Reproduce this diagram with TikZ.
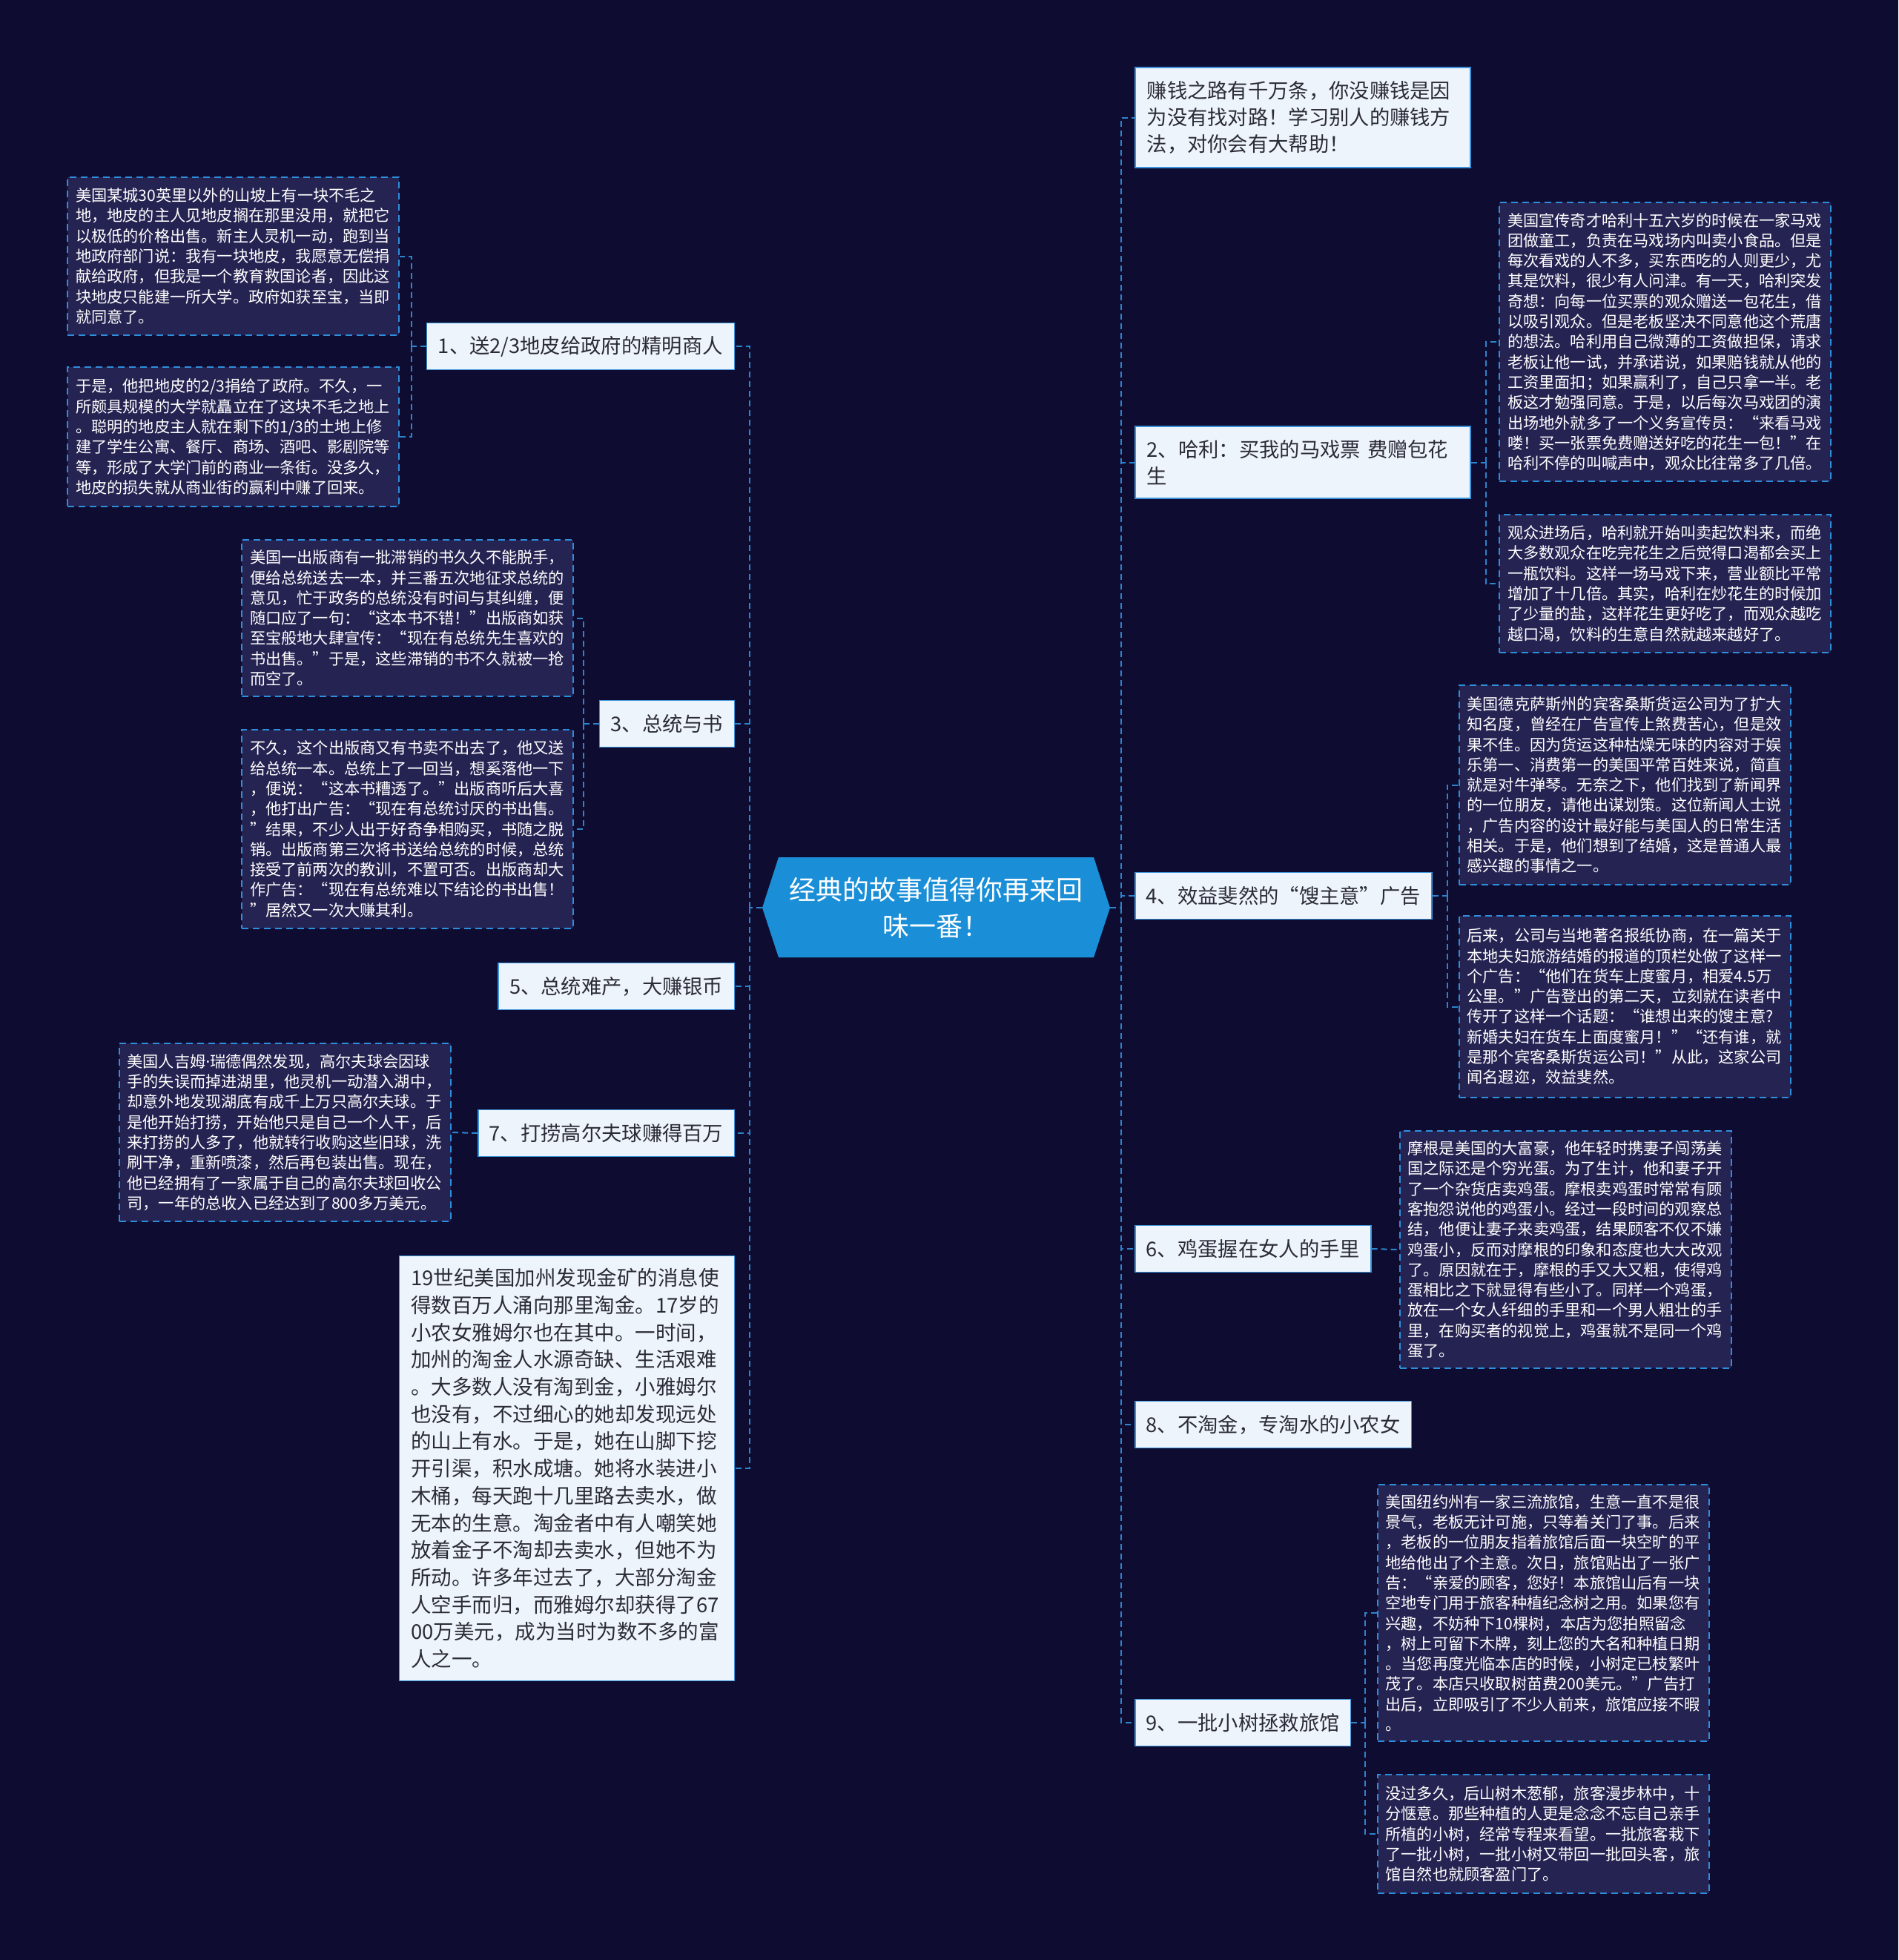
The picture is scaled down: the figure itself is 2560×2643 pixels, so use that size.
\documentclass[tikz,border=0pt]{standalone}
\usepackage{fontspec}
\newfontfamily\cjk{Noto Sans CJK SC}
\newfontfamily\latinsans{Noto Sans}
\definecolor{bg}{HTML}{0E0C31}
\definecolor{leaff}{HTML}{252352}
\definecolor{leafb}{HTML}{2E8EDC}
\definecolor{connc}{HTML}{2C84CC}
\definecolor{brf}{HTML}{EEF4FC}
\definecolor{brb}{HTML}{3A93DA}
\definecolor{brt}{HTML}{2B2B38}
\definecolor{cfill}{HTML}{1A8FD8}
\begin{document}
\begin{tikzpicture}[x=1pt,y=-1pt,
  conn/.style={draw=connc, line width=2pt, dash pattern=on 8pt off 5pt},
  leaf/.style={draw=leafb, fill=leaff, line width=2pt, dash pattern=on 9pt off 6pt,
    text=white, align=left, text width=425pt, inner xsep=11pt, inner ysep=0pt,
    font=\cjk\fontsize{21.2}{27.3}\selectfont},
  br/.style={draw=brb, fill=brf, line width=1.5pt, text=brt, inner xsep=15pt,
    inner ysep=0pt, minimum height=63pt, font=\cjk\fontsize{27.3}{36}\selectfont},
  brm/.style={br, align=left, text width=420pt, inner xsep=16pt},
]
\useasboundingbox (0,0) rectangle (2560,2643);
\fill[bg] (0,0) rectangle (2560,2643);

% centre
\fill[cfill] (1050,1156) -- (1475,1156) -- (1497,1224) -- (1475,1291) -- (1050,1291) -- (1028,1224) -- cycle;
\node[minimum width=469pt, minimum height=135pt, text=white, align=center,
  font=\cjk\fontsize{36}{49}\selectfont] (c) at (1262.5,1224) {经典的故事值得你再来回\\味一番！};
\coordinate (cl) at (1011,1224);
\coordinate (cr) at (1512,1224);

% left branches
\node[br, anchor=east, minimum width=415pt] (n1) at (991,467) {1、送2/3地皮给政府的精明商人};
\node[br, anchor=east, minimum width=180pt] (n3) at (991,976) {3、总统与书};
\node[br, anchor=east, minimum width=317pt] (n5) at (991,1330) {5、总统难产，大赚银币};
\node[br, anchor=east, minimum width=344pt] (n7) at (991,1528) {7、打捞高尔夫球赚得百万};
\node[brm, anchor=east, minimum height=573pt, font=\cjk\fontsize{27.5}{36.7}\selectfont] (b8) at (991,1980) {19世纪美国加州发现金矿的消息使\\
得数百万人涌向那里淘金。17岁的\\
小农女雅姆尔也在其中。一时间，\\
加州的淘金人水源奇缺、生活艰难\\
。大多数人没有淘到金，小雅姆尔\\
也没有，不过细心的她却发现远处\\
的山上有水。于是，她在山脚下挖\\
开引渠，积水成塘。她将水装进小\\
木桶，每天跑十几里路去卖水，做\\
无本的生意。淘金者中有人嘲笑她\\
放着金子不淘却去卖水，但她不为\\
所动。许多年过去了，大部分淘金\\
人空手而归，而雅姆尔却获得了67\\
00万美元，成为当时为数不多的富\\
人之一。};

% right branches
\node[brm, anchor=west, minimum height=135pt] (top) at (1530,158.5) {赚钱之路有千万条，你没赚钱是因\\为没有找对路！学习别人的赚钱方\\法，对你会有大帮助！};
\node[brm, anchor=west, minimum height=97pt] (n2) at (1530,623.5) {2、哈利：买我的马戏票 费赠包花\\生};
\node[br, anchor=west, minimum width=398pt] (n4) at (1530,1208) {4、效益斐然的“馊主意”广告};
\node[br, anchor=west, minimum width=317pt] (n6) at (1530,1684) {6、鸡蛋握在女人的手里};
\node[br, anchor=west, minimum width=371pt] (n8) at (1530,1921) {8、不淘金，专淘水的小农女};
\node[br, anchor=west, minimum width=290pt] (n9) at (1530,2323) {9、一批小树拯救旅馆};

% leaves left
\node[leaf, minimum height=213pt] (l1a) at (314.5,345.5) {美国某城30英里以外的山坡上有一块不毛之\\
地，地皮的主人见地皮搁在那里没用，就把它\\
以极低的价格出售。新主人灵机一动，跑到当\\
地政府部门说：我有一块地皮，我愿意无偿捐\\
献给政府，但我是一个教育救国论者，因此这\\
块地皮只能建一所大学。政府如获至宝，当即\\
就同意了。};
\node[leaf, minimum height=188pt] (l1b) at (314.5,589) {于是，他把地皮的2/3捐给了政府。不久，一\\
所颇具规模的大学就矗立在了这块不毛之地上\\
。聪明的地皮主人就在剩下的1/3的土地上修\\
建了学生公寓、餐厅、商场、酒吧、影剧院等\\
等，形成了大学门前的商业一条街。没多久，\\
地皮的损失就从商业街的赢利中赚了回来。};
\node[leaf, minimum height=211pt] (l3a) at (549.5,833.5) {美国一出版商有一批滞销的书久久不能脱手，\\
便给总统送去一本，并三番五次地征求总统的\\
意见，忙于政务的总统没有时间与其纠缠，便\\
随口应了一句：“这本书不错！”出版商如获\\
至宝般地大肆宣传：“现在有总统先生喜欢的\\
书出售。”于是，这些滞销的书不久就被一抢\\
而空了。};
\node[leaf, minimum height=268pt] (l3b) at (549.5,1118) {不久，这个出版商又有书卖不出去了，他又送\\
给总统一本。总统上了一回当，想奚落他一下\\
，便说：“这本书糟透了。”出版商听后大喜\\
，他打出广告：“现在有总统讨厌的书出售。\\
”结果，不少人出于好奇争相购买，书随之脱\\
销。出版商第三次将书送给总统的时候，总统\\
接受了前两次的教训，不置可否。出版商却大\\
作广告：“现在有总统难以下结论的书出售！\\
”居然又一次大赚其利。};
\node[leaf, minimum height=240pt] (l7) at (384,1527) {美国人吉姆{\latinsans ·}瑞德偶然发现，高尔夫球会因球\\
手的失误而掉进湖里，他灵机一动潜入湖中，\\
却意外地发现湖底有成千上万只高尔夫球。于\\
是他开始打捞，开始他只是自己一个人干，后\\
来打捞的人多了，他就转行收购这些旧球，洗\\
刷干净，重新喷漆，然后再包装出售。现在，\\
他已经拥有了一家属于自己的高尔夫球回收公\\
司，一年的总收入已经达到了800多万美元。};

% leaves right
\node[leaf, minimum height=376pt] (r2a) at (2245.5,461) {美国宣传奇才哈利十五六岁的时候在一家马戏\\
团做童工，负责在马戏场内叫卖小食品。但是\\
每次看戏的人不多，买东西吃的人则更少，尤\\
其是饮料，很少有人问津。有一天，哈利突发\\
奇想：向每一位买票的观众赠送一包花生，借\\
以吸引观众。但是老板坚决不同意他这个荒唐\\
的想法。哈利用自己微薄的工资做担保，请求\\
老板让他一试，并承诺说，如果赔钱就从他的\\
工资里面扣；如果赢利了，自己只拿一半。老\\
板这才勉强同意。于是，以后每次马戏团的演\\
出场地外就多了一个义务宣传员：“来看马戏\\
喽！买一张票免费赠送好吃的花生一包！”在\\
哈利不停的叫喊声中，观众比往常多了几倍。};
\node[leaf, minimum height=186pt] (r2b) at (2245.5,787) {观众进场后，哈利就开始叫卖起饮料来，而绝\\
大多数观众在吃完花生之后觉得口渴都会买上\\
一瓶饮料。这样一场马戏下来，营业额比平常\\
增加了十几倍。其实，哈利在炒花生的时候加\\
了少量的盐，这样花生更好吃了，而观众越吃\\
越口渴，饮料的生意自然就越来越好了。};
\node[leaf, minimum height=269pt] (r4a) at (2191,1058.5) {美国德克萨斯州的宾客桑斯货运公司为了扩大\\
知名度，曾经在广告宣传上煞费苦心，但是效\\
果不佳。因为货运这种枯燥无味的内容对于娱\\
乐第一、消费第一的美国平常百姓来说，简直\\
就是对牛弹琴。无奈之下，他们找到了新闻界\\
的一位朋友，请他出谋划策。这位新闻人士说\\
，广告内容的设计最好能与美国人的日常生活\\
相关。于是，他们想到了结婚，这是普通人最\\
感兴趣的事情之一。};
\node[leaf, minimum height=245pt] (r4b) at (2191,1357.5) {后来，公司与当地著名报纸协商，在一篇关于\\
本地夫妇旅游结婚的报道的顶栏处做了这样一\\
个广告：“他们在货车上度蜜月，相爱4.5万\\
公里。”广告登出的第二天，立刻就在读者中\\
传开了这样一个话题：“谁想出来的馊主意?\\
新婚夫妇在货车上面度蜜月！”“还有谁，就\\
是那个宾客桑斯货运公司！”从此，这家公司\\
闻名遐迩，效益斐然。};
\node[leaf, minimum height=320pt] (r6) at (2111,1685) {摩根是美国的大富豪，他年轻时携妻子闯荡美\\
国之际还是个穷光蛋。为了生计，他和妻子开\\
了一个杂货店卖鸡蛋。摩根卖鸡蛋时常常有顾\\
客抱怨说他的鸡蛋小。经过一段时间的观察总\\
结，他便让妻子来卖鸡蛋，结果顾客不仅不嫌\\
鸡蛋小，反而对摩根的印象和态度也大大改观\\
了。原因就在于，摩根的手又大又粗，使得鸡\\
蛋相比之下就显得有些小了。同样一个鸡蛋，\\
放在一个女人纤细的手里和一个男人粗壮的手\\
里，在购买者的视觉上，鸡蛋就不是同一个鸡\\
蛋了。};
\node[leaf, minimum height=346pt] (r9a) at (2081,2175) {美国纽约州有一家三流旅馆，生意一直不是很\\
景气，老板无计可施，只等着关门了事。后来\\
，老板的一位朋友指着旅馆后面一块空旷的平\\
地给他出了个主意。次日，旅馆贴出了一张广\\
告：“亲爱的顾客，您好！本旅馆山后有一块\\
空地专门用于旅客种植纪念树之用。如果您有\\
兴趣，不妨种下10棵树，本店为您拍照留念\\
，树上可留下木牌，刻上您的大名和种植日期\\
。当您再度光临本店的时候，小树定已枝繁叶\\
茂了。本店只收取树苗费200美元。”广告打\\
出后，立即吸引了不少人前来，旅馆应接不暇\\
。};
\node[leaf, minimum height=160pt] (r9b) at (2081,2473) {没过多久，后山树木葱郁，旅客漫步林中，十\\
分惬意。那些种植的人更是念念不忘自己亲手\\
所植的小树，经常专程来看望。一批旅客栽下\\
了一批小树，一批小树又带回一批回头客，旅\\
馆自然也就顾客盈门了。};

% connectors: centre to branches
\draw[conn] (c.west) -- (cl);
\draw[conn] (c.east) -- (cr);
\foreach \n in {n1,n3,n5,n7,b8} \draw[conn] (cl) |- (\n.east);
\foreach \n in {top,n2,n4,n6,n8,n9} \draw[conn] (cr) |- (\n.west);

% connectors: branches to leaves
\draw[conn] (n1.west) -- ++(-20,0) coordinate (k1);
\draw[conn] (k1) |- (l1a.east);
\draw[conn] (k1) |- (l1b.east);
\draw[conn] (n3.west) -- ++(-21,0) coordinate (k3);
\draw[conn] (k3) |- (l3a.east);
\draw[conn] (k3) |- (l3b.east);
\draw[conn] (n7.west) -- (l7.east);
\draw[conn] (n2.east) -- ++(20,0) coordinate (k2);
\draw[conn] (k2) |- (r2a.west);
\draw[conn] (k2) |- (r2b.west);
\draw[conn] (n4.east) -- ++(20,0) coordinate (k4);
\draw[conn] (k4) |- (r4a.west);
\draw[conn] (k4) |- (r4b.west);
\draw[conn] (n6.east) -- (r6.west);
\draw[conn] (n9.east) -- ++(19,0) coordinate (k9);
\draw[conn] (k9) |- (r9a.west);
\draw[conn] (k9) |- (r9b.west);
\end{tikzpicture}
\end{document}
